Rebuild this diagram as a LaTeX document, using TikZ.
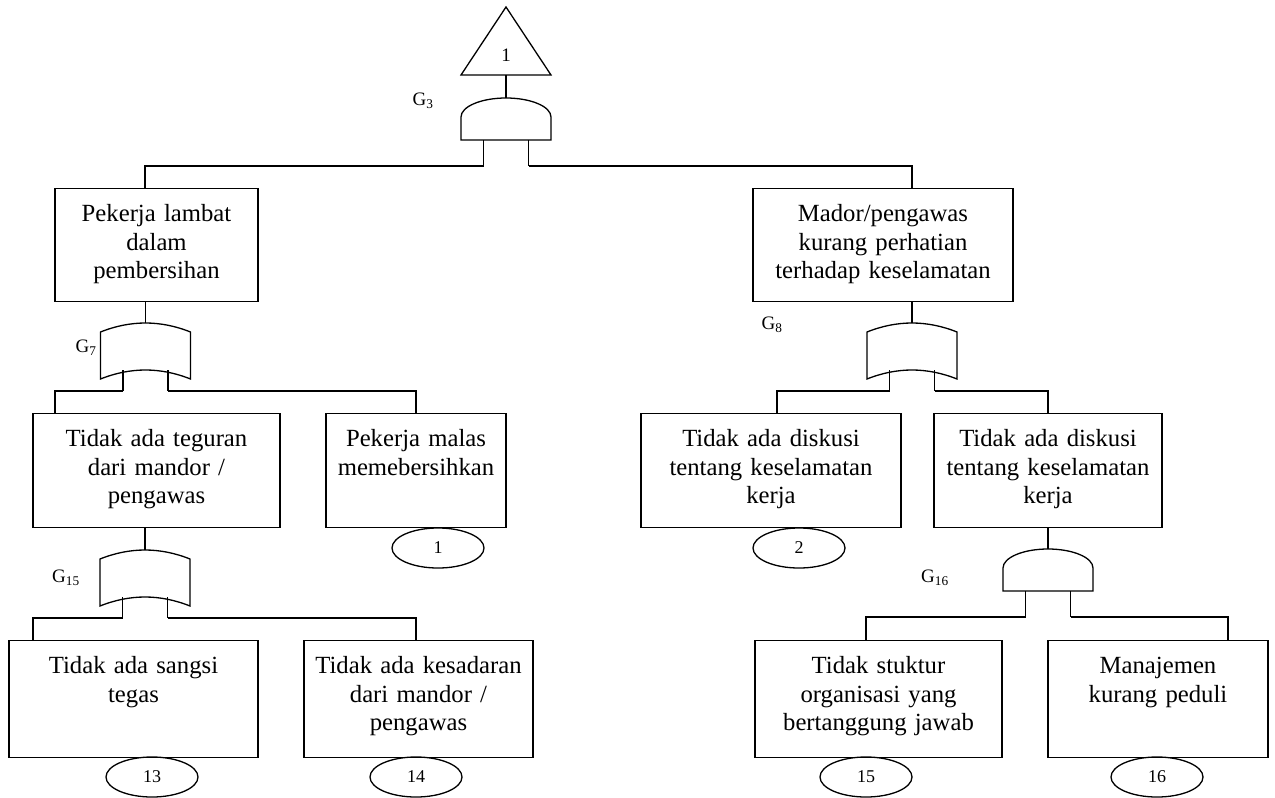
\documentclass[tikz,border=0pt]{standalone}
\usepackage{fontspec}
\setmainfont{Liberation Serif}
\usetikzlibrary{shapes.geometric}

\tikzset{
  evbox/.style={draw, rectangle, inner sep=0pt, anchor=north, align=center,
    text height=33pt, font=\fontsize{24.7}{28.5}\selectfont},
  basic/.style={draw, ellipse, inner sep=0pt, minimum width=92pt, minimum height=40pt,
    font=\fontsize{18}{20}\selectfont},
  glabel/.style={inner sep=0pt, font=\fontsize{19}{21}\selectfont},
  % AND gate: origin at the top of the dome, y pointing down
  andgate/.pic={
    \draw (-45,42) -- (-45,19) .. controls (-45,8.5) and (-24.8,0) .. (0,0)
          .. controls (24.8,0) and (45,8.5) .. (45,19) -- (45,42) -- cycle;
    \coordinate (-in) at (0,0);
    \coordinate (-l) at (-22.5,42);
    \coordinate (-r) at (22.5,42);
    \coordinate (-lo) at (-22.5,68);
    \coordinate (-ro) at (22.5,68);
    \draw (-l) -- (-lo) (-r) -- (-ro);
  },
  % OR gate: origin at the top of the upper curve, y pointing down
  orgate/.pic={
    \draw (-45,9) .. controls (-15,-3) and (15,-3) .. (45,9) -- (45,56)
          .. controls (15,44) and (-15,44) .. (-45,56) -- cycle;
    \coordinate (-in) at (0,0);
    \coordinate (-l) at (-22.5,47);
    \coordinate (-r) at (22.5,47);
    \coordinate (-lo) at (-22.5,68);
    \coordinate (-ro) at (22.5,68);
    \draw (-l) -- (-lo) (-r) -- (-ro);
  }
}

\begin{document}
\begin{tikzpicture}[x=1pt, y=-1pt, line width=1.3pt]
\useasboundingbox (0,0) rectangle (1275,798);

% top event
\draw (506,7) -- (551,75) -- (461,75) -- cycle;
\coordinate (tb) at (506,75);
\node[font=\fontsize{19}{21}\selectfont, inner sep=0pt] (tnum) at (506,55) {1};

% gates
\pic (g3) at (506,98) {andgate};
\pic (g7) at (145.5,323) {orgate};
\pic (g8) at (912,323) {orgate};
\pic (g15) at (145,550) {orgate};
\pic (g16) at (1048,549) {andgate};

\node[glabel] (lg3) at (423,101) {G\textsubscript{3}};
\node[glabel] (lg7) at (86,348) {G\textsubscript{7}};
\node[glabel] (lg8) at (772,325) {G\textsubscript{8}};
\node[glabel] (lg15) at (66,578) {G\textsubscript{15}};
\node[glabel] (lg16) at (935,578) {G\textsubscript{16}};

% events, first row
\node[evbox, text width=203pt, text depth=80pt] (b1) at (156.5,188)
  {Pekerja lambat\\dalam\\pembersihan};
\node[evbox, text width=260pt, text depth=80pt] (b2) at (883,188)
  {Mador/pengawas\\kurang perhatian\\terhadap keselamatan};

% second row
\node[evbox, text width=247pt, text depth=81pt] (b3) at (156.5,413)
  {Tidak ada teguran\\dari mandor /\\pengawas};
\node[evbox, text width=180pt, text depth=81pt] (b4) at (416,413)
  {Pekerja malas\\memebersihkan};
\node[evbox, text width=260pt, text depth=81pt] (b5) at (771,413)
  {Tidak ada diskusi\\tentang keselamatan\\kerja};
\node[evbox, text width=228pt, text depth=81pt] (b6) at (1048,413)
  {Tidak ada diskusi\\tentang keselamatan\\kerja};

% third row
\node[evbox, text width=249pt, text depth=84pt] (b7) at (133.5,640)
  {Tidak ada sangsi\\tegas};
\node[evbox, text width=229pt, text depth=84pt] (b8) at (418.5,640)
  {Tidak ada kesadaran\\dari mandor /\\pengawas};
\node[evbox, text width=247pt, text depth=84pt] (b9) at (878.5,640)
  {Tidak stuktur\\organisasi yang\\bertanggung jawab};
\node[evbox, text width=220pt, text depth=84pt] (b10) at (1158,640)
  {Manajemen\\kurang peduli};

% basic events
\node[basic] (e1) at (438,548) {1};
\node[basic] (e2) at (799,548) {2};
\node[basic] (e13) at (152,777) {13};
\node[basic] (e14) at (416,777) {14};
\node[basic] (e15) at (866,777) {15};
\node[basic] (e16) at (1157,777) {16};

% connectors
\draw (tb) -- (g3-in);
\draw (g3-lo) -| ([xshift=-11.5pt]b1.north);
\draw (g3-ro) -| ([xshift=29pt]b2.north);

\draw (g7-in |- b1.south) -- (g7-in);
\draw (g7-lo) -| ([xshift=-101.5pt]b3.north);
\draw (g7-ro) -| (b4.north);

\draw (g8-in |- b2.south) -- (g8-in);
\draw (g8-lo) -| ([xshift=6pt]b5.north);
\draw (g8-ro) -| (b6.north);

\draw (g15-in |- b3.south) -- (g15-in);
\draw (g15-lo) -| ([xshift=-100.5pt]b7.north);
\draw (g15-ro) -| ([xshift=-2.5pt]b8.north);

\draw (b6.south) -- (g16-in);
\draw (g16-lo) -| ([xshift=-12.5pt]b9.north);
\draw (g16-ro) -| ([xshift=70pt]b10.north);
\end{tikzpicture}
\end{document}
